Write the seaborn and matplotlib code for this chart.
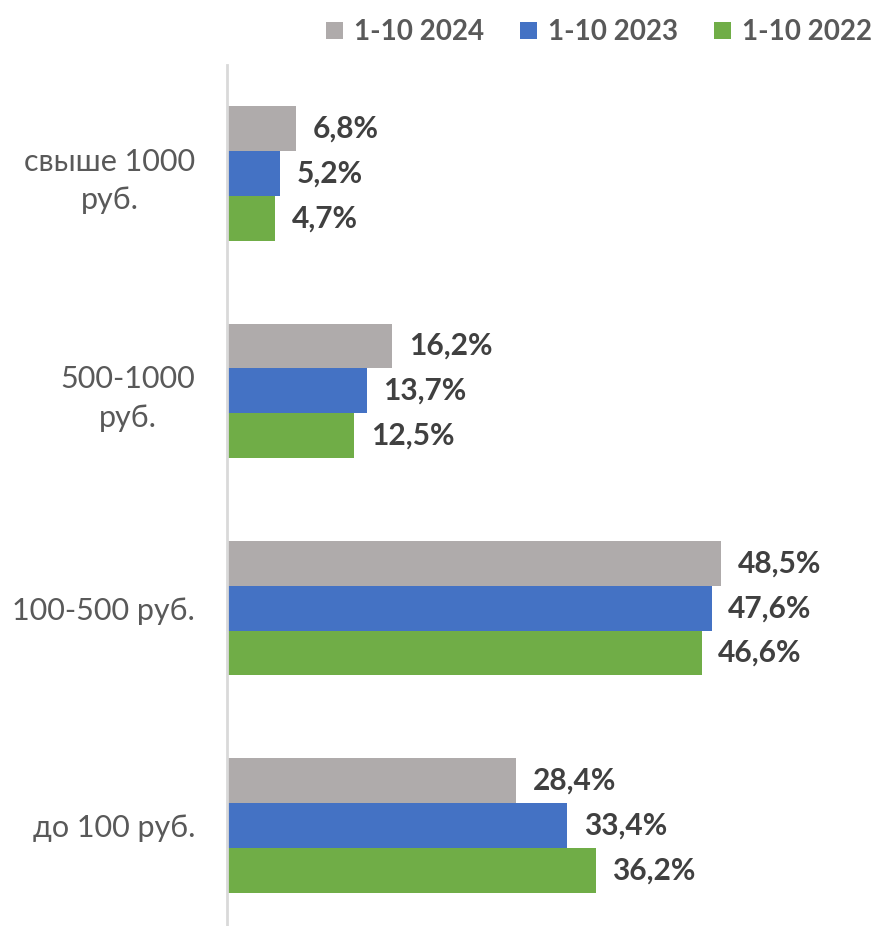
import pandas as pd
import matplotlib.pyplot as plt
import seaborn as sns
from matplotlib.patches import Patch

categories = ['свыше 1000\nруб.', '500-1000\nруб.', '100-500 руб.', 'до 100 руб.']
series = ['1-10 2024', '1-10 2023', '1-10 2022']
vals_2024 = [6.8, 16.2, 48.5, 28.4]
vals_2023 = [5.2, 13.7, 47.6, 33.4]
vals_2022 = [4.7, 12.5, 46.6, 36.2]
colors = ['#AFABAB', '#4472C4', '#70AD47']

rows = []
for s, vals in zip(series, [vals_2024, vals_2023, vals_2022]):
    for c, v in zip(categories, vals):
        rows.append({'cat': c, 'series': s, 'value': v})
df = pd.DataFrame(rows)

sns.set_style('white')
plt.rcParams['font.family'] = ['Lato', 'DejaVu Sans']

fig = plt.figure(figsize=(8.78, 9.26), dpi=100)
ax = fig.add_axes([227 / 878, 0.0, 1 - 227 / 878 - 0.005, (926 - 65) / 926])

sns.barplot(data=df, y='cat', x='value', hue='series', order=categories,
            hue_order=series, palette=colors, orient='h', width=0.62,
            saturation=1, linewidth=0, legend=False, ax=ax)

for cont in ax.containers:
    ax.bar_label(cont, labels=[f'{v:.1f}%'.replace('.', ',') for v in cont.datavalues],
                 padding=12, fontsize=21.5, fontweight='bold', color='#404040')

ax.set_xlim(0, 63.5)
ax.set_ylim(3.463, -0.5)
ax.set_xlabel('')
ax.set_ylabel('')
ax.set_xticks([])
for side in ['top', 'right', 'bottom']:
    ax.spines[side].set_visible(False)
ax.spines['left'].set_color('#D9D9D9')
ax.spines['left'].set_linewidth(2)
ax.tick_params(axis='y', length=0, pad=23, labelsize=22, labelcolor='#595959')
for t in ax.get_yticklabels():
    t.set_multialignment('center')
    t.set_linespacing(1.45)

handles = [Patch(facecolor=c, edgecolor='none') for c in colors]
leg = fig.legend(handles, series, loc='upper right', bbox_to_anchor=(1.012, 0.997),
                 borderaxespad=0.2, ncol=3, frameon=False,
                 handlelength=0.6, handleheight=0.6,
                 handletextpad=0.4, columnspacing=1.3,
                 prop={'size': 20, 'weight': 'bold'})
for t in leg.get_texts():
    t.set_color('#595959')

fig.savefig('out.png', dpi=100, facecolor='white')
